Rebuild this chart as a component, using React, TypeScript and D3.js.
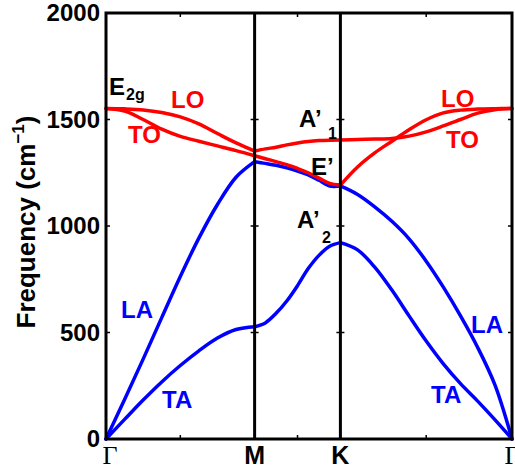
import React from "react";
import * as d3 from "d3";

// k-path (units of 2π/a): Γ-M = 1/√3, M-K = 1/3, K-Γ = 2/3
const pointLabels = ["Γ", "M", "K", "Γ"];
const pointK = [0, 0.5774, 0.9107, 1.5774];

const kGM = [0, 0.0722, 0.1443, 0.2165, 0.2887, 0.3608, 0.433, 0.5052, 0.5774];
const kMK = [0.5774, 0.6191, 0.6607, 0.7024, 0.7441, 0.7857, 0.8274, 0.869, 0.9107];
const kKG = [0.9107, 0.9774, 1.044, 1.1107, 1.1774, 1.244, 1.3107, 1.3774, 1.444, 1.5107, 1.5774];

// acoustic branches (blue)
const LA_GM = [0, 185, 375, 570, 763, 943, 1101, 1229, 1302];
const LA_MK = [1302, 1294, 1285, 1273, 1258, 1240, 1215, 1188, 1188];
const LA_KG = [1188, 1148, 1090, 1022, 940, 835, 713, 578, 430, 255, 0];

const TA_GM = [0, 92, 183, 268, 345, 414, 474, 514, 527];
const TA_MK = [527, 545, 590, 648, 720, 800, 862, 905, 922];
const TA_KG = [922, 888, 807, 699, 578, 460, 353, 260, 178, 91, 0];

// optical branches (red)
const OA_GM = [1552, 1550, 1545, 1533, 1512, 1479, 1434, 1390, 1352];
const OA_MK = [1352, 1362, 1370, 1381, 1390, 1397, 1401, 1403, 1404];
const OA_KG = [1404, 1406, 1408, 1411, 1422, 1442, 1470, 1500, 1530, 1546, 1552];

const OB_GM = [1552, 1540, 1500, 1455, 1421, 1398, 1376, 1354, 1330];
const OB_MK = [1330, 1316, 1302, 1288, 1270, 1250, 1225, 1200, 1192];
const OB_KG = [1192, 1277, 1343, 1398, 1452, 1499, 1531, 1544, 1549, 1551, 1552];

const yTicks = [0, 500, 1000, 1500, 2000];

const W = 515;
const H = 468;
const left = 106;
const right = 512;
const top = 13;
const bottom = 439;

const SANS = "'Liberation Sans', Arial, Helvetica, sans-serif";
const SERIF = "'Liberation Serif', 'Times New Roman', serif";
const RED = "#ff0000";
const BLUE = "#0000ff";

export default function App() {
  const x = d3.scaleLinear().domain([0, pointK[3]]).range([left, right]);
  const y = d3.scaleLinear().domain([0, 2000]).range([bottom, top]);

  const line = d3
    .line<[number, number]>()
    .x((d) => x(d[0]))
    .y((d) => y(d[1]))
    .curve(d3.curveCatmullRom.alpha(0.5));

  const seg = (ks: number[], vs: number[]) =>
    line(ks.map((k, i) => [k, vs[i]] as [number, number])) || "";

  const branches = [
    { color: BLUE, parts: [[kGM, LA_GM], [kMK, LA_MK], [kKG, LA_KG]] },
    { color: BLUE, parts: [[kGM, TA_GM], [kMK, TA_MK], [kKG, TA_KG]] },
    { color: RED, parts: [[kGM, OA_GM], [kMK, OA_MK], [kKG, OA_KG]] },
    { color: RED, parts: [[kGM, OB_GM], [kMK, OB_MK], [kKG, OB_KG]] },
  ];

  // panel mid ticks on top and bottom
  const midTicks = [0, 1, 2].map((i) => (pointK[i] + pointK[i + 1]) / 2);
  const tl = 4;

  const bigLabel = { fontFamily: SANS, fontWeight: 700, fontSize: 24 } as const;
  const subLabel = { fontFamily: SANS, fontWeight: 700, fontSize: 16 } as const;

  return (
    <svg
      width={W}
      height={H}
      style={{ position: "absolute", left: 0, top: 0, background: "#fff" }}
    >
      <rect x={0} y={0} width={W} height={H} fill="#fff" />

      {/* curves */}
      {branches.map((b, bi) =>
        b.parts.map((p, pi) => (
          <path
            key={`${bi}-${pi}`}
            d={seg(p[0] as number[], p[1] as number[])}
            fill="none"
            stroke={b.color}
            strokeWidth={3.5}
            strokeLinejoin="round"
            strokeLinecap="round"
          />
        ))
      )}

      {/* interior high-symmetry lines */}
      {[pointK[1], pointK[2]].map((k, i) => (
        <line
          key={`v${i}`}
          x1={x(k)}
          x2={x(k)}
          y1={y(0)}
          y2={y(2000)}
          stroke="#000"
          strokeWidth={3}
        />
      ))}

      {/* y ticks on each panel border */}
      {yTicks.slice(1, -1).map((t) => (
        <g key={`yt${t}`} stroke="#000" strokeWidth={1.5}>
          <line x1={x(0)} x2={x(0) + tl} y1={y(t)} y2={y(t)} />
          <line x1={x(pointK[3])} x2={x(pointK[3]) - tl} y1={y(t)} y2={y(t)} />
          <line x1={x(pointK[1]) - tl} x2={x(pointK[1]) + tl} y1={y(t)} y2={y(t)} />
          <line x1={x(pointK[2]) - tl} x2={x(pointK[2]) + tl} y1={y(t)} y2={y(t)} />
        </g>
      ))}

      {/* x mid ticks */}
      {midTicks.map((k, i) => (
        <g key={`xt${i}`} stroke="#000" strokeWidth={1.5}>
          <line x1={x(k)} x2={x(k)} y1={y(0)} y2={y(0) - tl} />
          <line x1={x(k)} x2={x(k)} y1={y(2000)} y2={y(2000) + tl} />
        </g>
      ))}

      {/* frame */}
      <rect
        x={left}
        y={top}
        width={right - left}
        height={bottom - top}
        fill="none"
        stroke="#000"
        strokeWidth={3}
      />

      {/* y tick labels */}
      {yTicks.map((t) => (
        <text
          key={`yl${t}`}
          x={100}
          y={y(t)}
          dy="0.35em"
          textAnchor="end"
          {...bigLabel}
        >
          {t}
        </text>
      ))}

      {/* x labels */}
      {pointLabels.map((lab, i) => {
        const isGamma = lab === "Γ";
        const dx = i === 0 ? 4 : 0;
        return (
          <text
            key={`xl${i}`}
            x={x(pointK[i]) + dx}
            y={464}
            textAnchor="middle"
            fontFamily={isGamma ? SERIF : SANS}
            fontWeight={isGamma ? 400 : 700}
            fontSize={isGamma ? 26 : 25}
          >
            {lab}
          </text>
        );
      })}

      {/* y axis label */}
      <text
        transform={`translate(35,222) rotate(-90)`}
        textAnchor="middle"
        fontFamily={SANS}
        fontWeight={700}
        fontSize={26}
      >
        Frequency (cm
        <tspan fontSize={17} dy={-11}>
          −1
        </tspan>
        <tspan dy={11}>)</tspan>
      </text>

      {/* mode labels */}
      <text x={109} y={95} fill="#000" {...bigLabel}>
        E
      </text>
      <text x={126} y={100} fill="#000" {...subLabel}>
        2g
      </text>
      <text x={171} y={108} fill={RED} {...bigLabel}>
        LO
      </text>
      <text x={128} y={143} fill={RED} {...bigLabel}>
        TO
      </text>
      <text x={441} y={107} fill={RED} {...bigLabel}>
        LO
      </text>
      <text x={446} y={148} fill={RED} {...bigLabel}>
        TO
      </text>

      <text x={299} y={127} fill="#000" {...bigLabel}>
        A’
      </text>
      <text x={328} y={139} fill="#000" {...subLabel}>
        1
      </text>
      <text x={311} y={175} fill="#000" {...bigLabel}>
        E’
      </text>
      <text x={297} y={228} fill="#000" {...bigLabel}>
        A’
      </text>
      <text x={322} y={243} fill="#000" {...subLabel}>
        2
      </text>

      <text x={121} y={318} fill={BLUE} {...bigLabel}>
        LA
      </text>
      <text x={162} y={408} fill={BLUE} {...bigLabel}>
        TA
      </text>
      <text x={471} y={333} fill={BLUE} {...bigLabel}>
        LA
      </text>
      <text x={431} y={403} fill={BLUE} {...bigLabel}>
        TA
      </text>
    </svg>
  );
}
